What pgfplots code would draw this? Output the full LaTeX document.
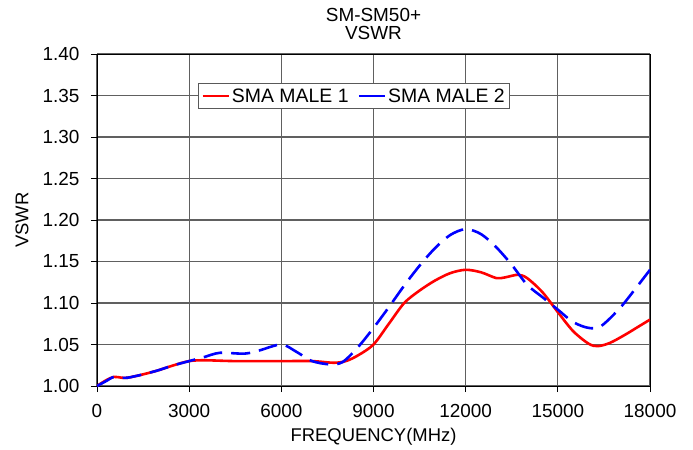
\documentclass[border=0pt]{standalone}
\usepackage{pgfplots}
\pgfplotsset{compat=1.18}
\usepackage{fontspec}
\setmainfont{Liberation Sans}
\begin{document}
\begin{tikzpicture}
\path[use as bounding box] (-97bp,-64bp) rectangle (596bp,386bp);
\begin{axis}[
  at={(0,0)}, anchor=south west,
  scale only axis, width=553bp, height=332bp,
  xmin=0, xmax=18000, ymin=1.00, ymax=1.40,
  xtick={0,3000,...,18000},
  ytick={1.00,1.05,...,1.40},
  scaled x ticks=false,
  /pgf/number format/assume math mode=true,
  xticklabel style={/pgf/number format/1000 sep={}, font=\fontsize{19}{22}\selectfont, yshift=-9bp},
  yticklabel style={/pgf/number format/.cd, fixed, fixed zerofill, precision=2, /tikz/.cd, font=\fontsize{19}{22}\selectfont, xshift=-8bp},
  tick align=outside, major tick length=6bp,
  tick style={black, line width=0.8pt},
  xtick pos=bottom, ytick pos=left,
  grid=major,
  major grid style={gray!75!black, line width=1.3pt},
  axis line style={black, line width=0.8pt},
  title={SM-SM50+\\VSWR},
  title style={align=center, font=\fontsize{19}{18.3}\selectfont, at={(0.5,1)}, anchor=south, yshift=5bp},
  xlabel={FREQUENCY(MHz)},
  xlabel style={at={(0.5,0)}, anchor=center, yshift=-51bp, font=\fontsize{18.5}{21}\selectfont},
  ylabel={VSWR},
  every axis y label/.style={at={(-75bp,166bp)}, anchor=center, rotate=90, font=\fontsize{18.5}{21}\selectfont},
  legend style={at={(0.1826,0.912)}, anchor=north west, draw=gray!70!black, line width=0.8pt,
    font=\fontsize{19.5}{22}\selectfont, inner sep=3bp, legend columns=2,
    /tikz/every even column/.append style={column sep=7bp}},
  legend image code/.code={\draw[#1, solid] (0bp,0bp) -- (26bp,0bp);},
]
\addplot[red, line width=2.6bp, smooth, tension=0.5] coordinates {
(0,1.000) (300,1.007) (550,1.011) (800,1.010) (1000,1.010) (1500,1.014)
(2000,1.019) (2500,1.025) (3000,1.030) (3500,1.031) (4500,1.030) (6000,1.030)
(7000,1.030) (7700,1.028) (8100,1.030) (8500,1.037) (9000,1.050) (9500,1.075)
(10000,1.100) (10500,1.115) (11000,1.127) (11500,1.136) (12000,1.140) (12500,1.137)
(13000,1.130) (13300,1.131) (13700,1.134) (14000,1.130) (14500,1.113) (15000,1.089)
(15500,1.066) (16000,1.051) (16300,1.048) (16700,1.052) (17200,1.062) (17600,1.071)
(18000,1.080)};
\addlegendentry{SMA MALE 1}
\addplot[blue, line width=2.6bp, smooth, tension=0.5, dash pattern=on 19bp off 9bp] coordinates {
(0,1.000) (300,1.006) (550,1.011) (800,1.010) (1000,1.010) (1500,1.014)
(2000,1.019) (2500,1.025) (3000,1.030) (3500,1.035) (4000,1.040) (4800,1.039)
(5300,1.043) (6000,1.050) (6500,1.041) (7000,1.030) (7600,1.026) (8000,1.029)
(8500,1.047) (9000,1.070) (9500,1.095) (10000,1.121) (10500,1.145) (11000,1.166)
(11500,1.182) (12000,1.189) (12500,1.183) (13000,1.167) (13500,1.146) (14000,1.122)
(14500,1.107) (15000,1.092) (15500,1.077) (16000,1.070) (16400,1.072) (17000,1.093)
(17500,1.116) (18000,1.140)};
\addlegendentry{SMA MALE 2}
\end{axis}
\end{tikzpicture}
\end{document}
